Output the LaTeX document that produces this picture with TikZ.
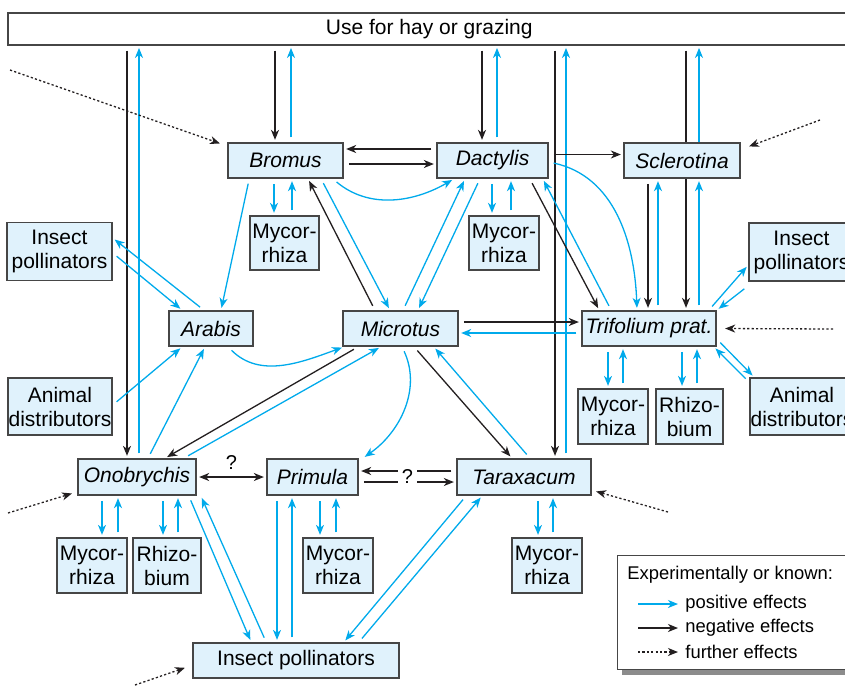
\documentclass[tikz,border=0pt]{standalone}
\usepackage{fontspec}
\setmainfont{Liberation Sans}
\usetikzlibrary{arrows.meta,shadows,calc}
\definecolor{posblue}{RGB}{0,170,235}
\definecolor{negdark}{RGB}{35,31,32}
\definecolor{boxfill}{RGB}{224,242,252}
\definecolor{boxline}{RGB}{70,70,70}
\tikzset{
  box/.style={draw=boxline, fill=boxfill, line width=0.75pt, inner sep=0pt, align=center,
    font=\fontsize{10.5}{12}\selectfont},
  species/.style={box, font=\fontsize{10.5}{12}\selectfont\itshape, minimum height=17.5pt},
  partner/.style={box, minimum width=35pt, minimum height=27.5pt},
  effect/.style={line width=0.65pt, ->, shorten <=2.5pt, shorten >=1.2pt},
  poseff/.style={effect, draw=posblue},
  negeff/.style={effect, draw=negdark},
  furthereff/.style={effect, draw=negdark, dash pattern=on 1.1pt off 1.1pt, shorten <=0pt},
  legendtext/.style={font=\fontsize{9.2}{11}\selectfont, inner sep=0pt}
}
\begin{document}
\begin{tikzpicture}[x=0.5pt,y=-0.5pt,>={Stealth[length=5pt,width=4pt,inset=1.5pt]}]
  \useasboundingbox (0,0) rectangle (845,687);
  % land use
  \node[box, fill=white, minimum width=421.5pt, minimum height=16pt, anchor=north west] (use) at (7,12) {Use for hay or grazing};
  % plants and animals of the meadow
  \node[species, minimum width=57.5pt] (bromus) at (285.5,160.5) {Bromus};
  \node[species, minimum width=55.5pt] (dactylis) at (492.5,160.5) {Dactylis};
  \node[species, minimum width=58pt] (sclerotina) at (682,160.5) {Sclerotina};
  \node[species, minimum width=42pt] (arabis) at (211,328.5) {Arabis};
  \node[species, minimum width=57.5pt] (microtus) at (400.5,328.5) {Microtus};
  \node[species, minimum width=67pt] (trifolium) at (649,328.5) {Trifolium prat.};
  \node[species, minimum width=59pt, minimum height=18pt] (onobrychis) at (137,477) {Onobrychis};
  \node[species, minimum width=45.5pt, minimum height=18pt] (primula) at (312.5,477) {Primula};
  \node[species, minimum width=67pt, minimum height=18pt] (taraxacum) at (524,477) {Taraxacum};
  % partners
  \node[partner, minimum width=52.5pt, minimum height=29pt] (insectL) at (59.5,251.5) {Insect\\pollinators};
  \node[partner, minimum width=52.5pt, minimum height=29pt] (insectR) at (801.5,252) {Insect\\pollinators};
  \node[partner, minimum width=52pt, minimum height=28.5pt] (animalL) at (60,406.5) {Animal\\distributors};
  \node[partner, minimum width=52pt, minimum height=28.5pt] (animalR) at (802,406.5) {Animal\\distributors};
  \node[partner, minimum width=34.5pt, minimum height=27pt] (mycB) at (284.5,243) {Mycor-\\rhiza};
  \node[partner, minimum height=27pt] (mycD) at (504,243) {Mycor-\\rhiza};
  \node[partner] (mycT) at (613,416.5) {Mycor-\\rhiza};
  \node[partner, minimum width=33.5pt] (rhiT) at (689.5,416.5) {Rhizo-\\bium};
  \node[partner] (mycO) at (92,565.5) {Mycor-\\rhiza};
  \node[partner, minimum width=34pt] (rhiO) at (167,565.5) {Rhizo-\\bium};
  \node[partner] (mycP) at (338,565.5) {Mycor-\\rhiza};
  \node[partner] (mycTa) at (547,565.5) {Mycor-\\rhiza};
  \node[box, minimum width=103pt, minimum height=17.5pt] (insectB) at (296,660.5) {Insect pollinators};

  % hay or grazing
  \draw[negeff] ([xshift=-5pt]onobrychis.north |- use.south) -- ([xshift=-5pt]onobrychis.north);
  \draw[poseff] ([xshift=1pt]onobrychis.north) -- ([xshift=1pt]onobrychis.north |- use.south);
  \draw[negeff] ([xshift=-5.25pt]bromus.north |- use.south) -- ([xshift=-5.25pt]bromus.north);
  \draw[poseff] ([xshift=2.75pt]bromus.north) -- ([xshift=2.75pt]bromus.north |- use.south);
  \draw[negeff] ([xshift=-5.25pt]dactylis.north |- use.south) -- ([xshift=-5.25pt]dactylis.north);
  \draw[poseff] ([xshift=2.25pt]dactylis.north) -- ([xshift=2.25pt]dactylis.north |- use.south);
  \draw[negeff] ([xshift=15.5pt]taraxacum.north |- use.south) -- ([xshift=15.5pt]taraxacum.north);
  \draw[poseff] ([xshift=21pt]taraxacum.north) -- ([xshift=21pt]taraxacum.north |- use.south);
  \draw[negeff, -, shorten >=0pt] ([xshift=18.5pt]trifolium.north |- use.south) -- ([xshift=18.5pt]trifolium.north |- sclerotina.north);
  \draw[negeff, shorten <=0pt] ([xshift=18.5pt]trifolium.north |- sclerotina.south) -- ([xshift=18.5pt]trifolium.north);
  \draw[poseff, shorten <=0pt] ([xshift=25pt]trifolium.north |- sclerotina.north) -- ([xshift=25pt]trifolium.north |- use.south);
  \draw[poseff] ([xshift=25pt]trifolium.north) -- ([xshift=25pt]trifolium.north |- sclerotina.south);

  % grasses
  \draw[negeff] ([yshift=5.75pt]dactylis.west) -- ([yshift=5.75pt]bromus.east);
  \draw[negeff] ([yshift=-1.75pt]bromus.east) -- ([yshift=-1.75pt]dactylis.west);
  \draw[negeff] ([yshift=3pt]dactylis.east) -- ([yshift=3pt]sclerotina.west);
  \draw[poseff] ([xshift=11pt]bromus.south west) -- ([xshift=5pt]arabis.north);
  \draw[poseff] ([xshift=-5.25pt]mycB.north |- bromus.south) -- ([xshift=-5.25pt]mycB.north);
  \draw[poseff] ([xshift=3.75pt]mycB.north) -- ([xshift=3.75pt]mycB.north |- bromus.south);
  \draw[negeff] ([xshift=-12.75pt]microtus.north) -- ([xshift=11.25pt]bromus.south);
  \draw[poseff] ([xshift=17.75pt]bromus.south) -- ([xshift=-5.25pt]microtus.north);
  \draw[poseff] ([xshift=-5.5pt]bromus.south east) to[out=-40,in=-150] ([xshift=9pt]dactylis.south west);
  \draw[poseff] ([xshift=-6.25pt]dactylis.south) -- ([xshift=8.75pt]microtus.north);
  \draw[poseff] ([xshift=1.25pt]microtus.north) -- ([xshift=-13.75pt]dactylis.south);
  \draw[poseff] ([xshift=-6pt]mycD.north |- dactylis.south) -- ([xshift=-6pt]mycD.north);
  \draw[poseff] ([xshift=3.5pt]mycD.north) -- ([xshift=3.5pt]mycD.north |- dactylis.south);
  \draw[negeff] ([xshift=-9.5pt]dactylis.south east) -- ([xshift=9pt]trifolium.north west);
  \draw[poseff] ([xshift=15pt]trifolium.north west) -- ([xshift=-3pt]dactylis.south east);
  \draw[poseff] ([yshift=-0.75pt]dactylis.east) to[out=-12,in=92] ([xshift=-6pt]trifolium.north);
  \draw[negeff] ([xshift=-0.5pt]trifolium.north |- sclerotina.south) -- ([xshift=-0.5pt]trifolium.north);
  \draw[poseff] ([xshift=4.5pt]trifolium.north) -- ([xshift=4.5pt]trifolium.north |- sclerotina.south);

  % Arabis and Microtus
  \draw[poseff] ([xshift=-3.5pt]arabis.north) -- ([yshift=6.75pt]insectL.east);
  \draw[poseff] ([yshift=-0.75pt]insectL.east) -- ([xshift=7pt]arabis.north west);
  \draw[poseff] ([yshift=0.75pt]animalL.east) -- ([xshift=7pt]arabis.south west);
  \draw[poseff] ([xshift=5.5pt]onobrychis.north) -- ([xshift=-3pt]arabis.south);
  \draw[poseff] ([xshift=8.5pt]arabis.south) to[out=-45,in=200] ([xshift=1pt]microtus.south west);
  \draw[negeff] ([xshift=8pt]microtus.south west) -- ([xshift=14pt]onobrychis.north);
  \draw[poseff] ([xshift=-6.5pt]onobrychis.north east) -- ([xshift=-9.75pt]microtus.south);
  \draw[poseff] ([xshift=0.75pt]microtus.south) to[out=-65,in=35] ([xshift=2pt]primula.north east);
  \draw[negeff] ([xshift=6.75pt]microtus.south) -- ([xshift=-6pt]taraxacum.north);
  \draw[poseff] ([xshift=3pt]taraxacum.north) -- ([xshift=-12.5pt]microtus.south east);
  \draw[negeff] ([yshift=3.25pt]microtus.east) -- ([yshift=3.25pt]trifolium.west);
  \draw[poseff] ([yshift=-2.25pt]trifolium.west) -- ([yshift=-2.25pt]microtus.east);

  % Trifolium
  \draw[poseff] ([xshift=-4pt]trifolium.north east) -- ([yshift=-6.5pt]insectR.west);
  \draw[poseff] ([yshift=-2pt]insectR.south west) -- (trifolium.north east);
  \draw[poseff] ([yshift=-5.25pt]trifolium.east) -- ([xshift=2.5pt]animalR.north west);
  \draw[poseff] ([yshift=-2.5pt]animalR.north west) -- ([xshift=-1.5pt]trifolium.south east);
  \draw[poseff] ([xshift=-2.5pt]mycT.north |- trifolium.south) -- ([xshift=-2.5pt]mycT.north);
  \draw[poseff] ([xshift=5pt]mycT.north) -- ([xshift=5pt]mycT.north |- trifolium.south);
  \draw[poseff] ([xshift=-3.75pt]rhiT.north |- trifolium.south) -- ([xshift=-3.75pt]rhiT.north);
  \draw[poseff] ([xshift=3.75pt]rhiT.north) -- ([xshift=3.75pt]rhiT.north |- trifolium.south);

  % lower row
  \draw[negeff, <->, shorten <=1.2pt] (onobrychis.east) -- node[above=3.5pt, inner sep=0pt] (qmarkO) {?} (primula.west);
  \draw[negeff] ([yshift=3pt]taraxacum.west) -- ([yshift=3pt]primula.east);
  \draw[negeff] ([yshift=-2.5pt]primula.east) -- ([yshift=-2.5pt]taraxacum.west);
  \node[fill=white, inner xsep=1.8pt, inner ysep=0pt] (qmarkP) at ($(primula.east)!0.5!(taraxacum.west)$) {?};
  \draw[poseff] ([xshift=5pt]mycO.north |- onobrychis.south) -- ([xshift=5pt]mycO.north);
  \draw[poseff] ([xshift=13pt]mycO.north) -- ([xshift=13pt]mycO.north |- onobrychis.south);
  \draw[poseff] ([xshift=-2pt]rhiO.north |- onobrychis.south) -- ([xshift=-2pt]rhiO.north);
  \draw[poseff] ([xshift=5.5pt]rhiO.north) -- ([xshift=5.5pt]rhiO.north |- onobrychis.south);
  \draw[poseff] ([xshift=-4pt]onobrychis.south east) -- ([xshift=29.5pt]insectB.north west);
  \draw[poseff] ([xshift=37pt]insectB.north west) -- ([xshift=2pt]onobrychis.south east);
  \draw[poseff] ([xshift=-17.75pt]primula.south) -- ([xshift=-17.75pt]primula.south |- insectB.north);
  \draw[poseff] ([xshift=-10.25pt]primula.south |- insectB.north) -- ([xshift=-10.25pt]primula.south);
  \draw[poseff] ([xshift=-9pt]mycP.north |- primula.south) -- ([xshift=-9pt]mycP.north);
  \draw[poseff] ([xshift=-1pt]mycP.north) -- ([xshift=-1pt]mycP.north |- primula.south);
  \draw[poseff] ([xshift=5pt]taraxacum.south west) -- ([xshift=-28pt]insectB.north east);
  \draw[poseff] ([xshift=-20.5pt]insectB.north east) -- ([xshift=13pt]taraxacum.south west);
  \draw[poseff] ([xshift=-4.5pt]mycTa.north |- taraxacum.south) -- ([xshift=-4.5pt]mycTa.north);
  \draw[poseff] ([xshift=3pt]mycTa.north) -- ([xshift=3pt]mycTa.north |- taraxacum.south);

  % further effects from outside
  \coordinate (fBromus) at (10,70);
  \coordinate (fSclerotina) at (820,120);
  \coordinate (fTrifolium) at (833,329);
  \coordinate (fTaraxacum) at (668,512);
  \coordinate (fOnobrychis) at (8,513);
  \coordinate (fInsect) at (135,685);
  \draw[furthereff] (fBromus) -- ([xshift=-2.5pt,yshift=-1pt]bromus.north west);
  \draw[furthereff] (fSclerotina) -- ([xshift=3pt,yshift=-2.5pt]sclerotina.north east);
  \draw[furthereff] (fTrifolium) -- ([xshift=3pt]trifolium.east);
  \draw[furthereff] (fTaraxacum) -- ([xshift=1pt,yshift=2.5pt]taraxacum.south east);
  \draw[furthereff] (fOnobrychis) -- ([xshift=-1.5pt,yshift=1.5pt]onobrychis.south west);
  \draw[furthereff] (fInsect) -- ([xshift=-2.5pt,yshift=-3.25pt]insectB.west);

  % legend
  \node[draw=boxline, fill=white, line width=0.6pt, minimum width=125pt, minimum height=57pt, anchor=north west,
        drop shadow={shadow xshift=2pt, shadow yshift=-2.5pt, fill=black!45, opacity=1}] (legend) at (617,555) {};
  \node[legendtext, anchor=west] (legtitle) at (627,575) {Experimentally or known:};
  \foreach \kind/\yy/\txt in {poseff/604/positive effects, negeff/628/negative effects, furthereff/652/further effects}{
    \coordinate (\kind A) at (638,\yy);
    \coordinate (\kind B) at (678,\yy);
    \draw[\kind, shorten <=0pt, shorten >=0pt] (\kind A) -- (\kind B);
    \node[legendtext, anchor=west] (\kind text) at (685,\yy) {\txt};
  }
\end{tikzpicture}
\end{document}
